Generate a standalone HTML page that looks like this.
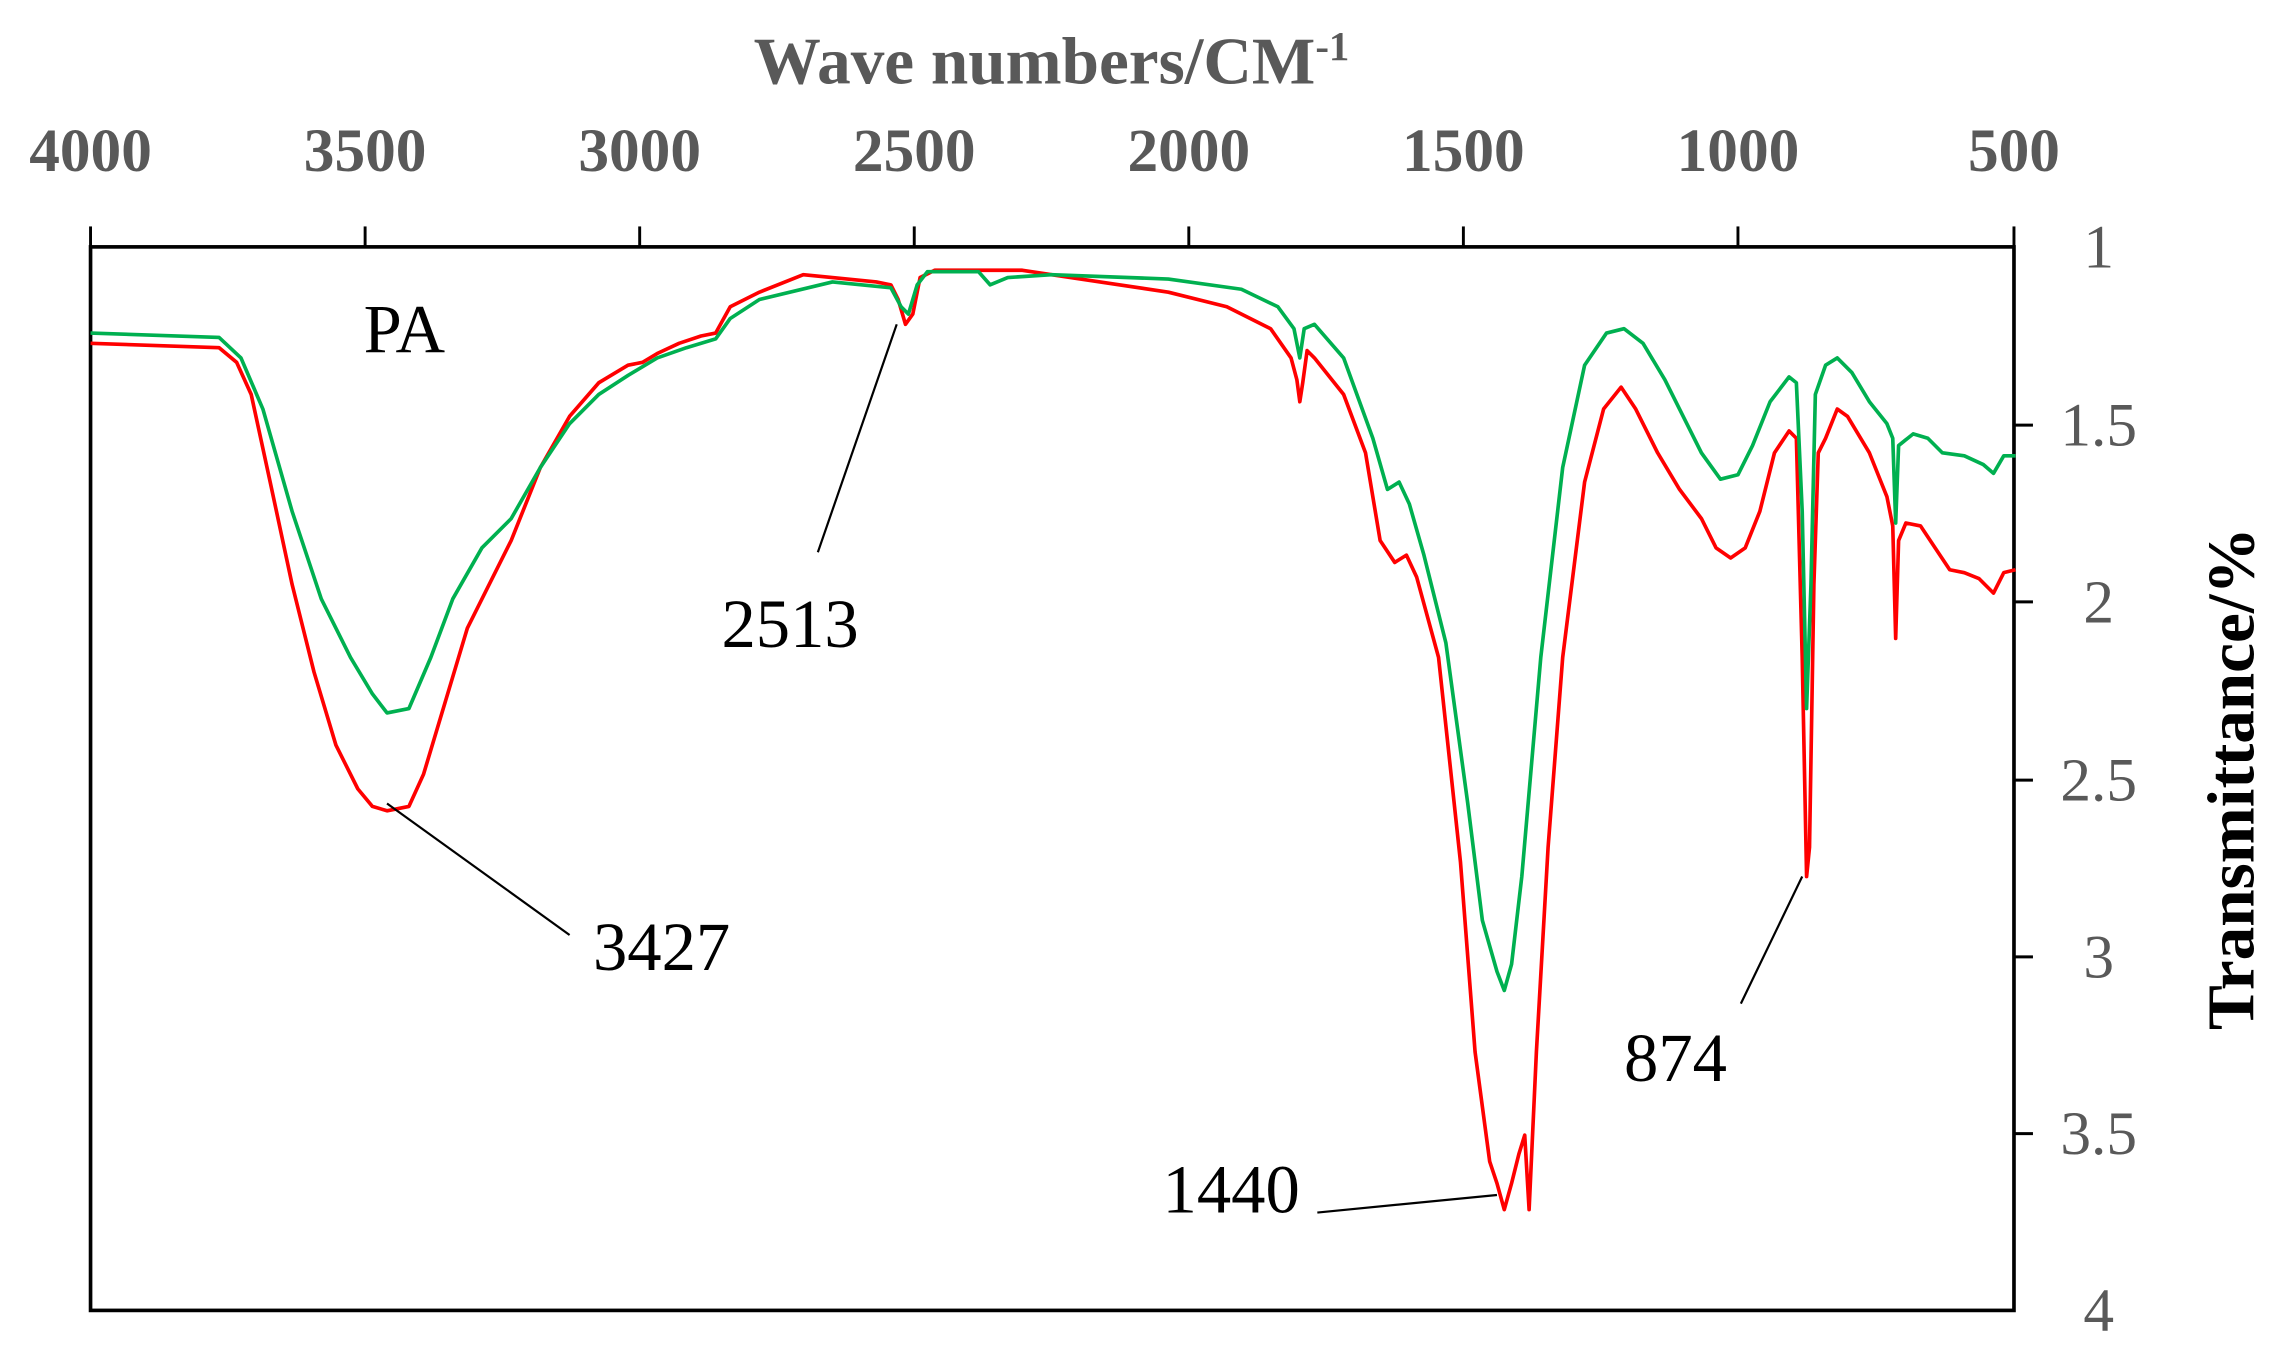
<!DOCTYPE html>
<html><head><meta charset="utf-8"><style>html,body{margin:0;padding:0;background:#fff}svg{display:block}</style></head><body>
<svg width="2290" height="1363" viewBox="0 0 1568 933" preserveAspectRatio="none" xmlns="http://www.w3.org/2000/svg" font-family="Liberation Serif, serif">
<text x="720" y="57" text-anchor="middle" font-size="46" font-weight="bold" fill="#595959">Wave numbers/CM<tspan font-size="28" dy="-16">-1</tspan></text>
<g font-size="42" font-weight="bold" fill="#595959" text-anchor="middle">
<text x="62" y="117">4000</text><text x="250" y="117">3500</text><text x="438" y="117">3000</text><text x="626" y="117">2500</text><text x="814" y="117">2000</text><text x="1002" y="117">1500</text><text x="1190" y="117">1000</text><text x="1379" y="117">500</text>
</g>
<g font-size="42" fill="#595959" text-anchor="middle">
<text x="1437" y="183">1</text><text x="1437" y="305">1.5</text><text x="1437" y="426">2</text><text x="1437" y="548">2.5</text><text x="1437" y="669">3</text><text x="1437" y="790">3.5</text><text x="1437" y="911">4</text>
</g>
<text transform="translate(1543,533) rotate(-90)" text-anchor="middle" font-size="46" font-weight="bold" fill="#000">Transmittance/%</text>
<rect x="62" y="169" width="1317" height="728" fill="none" stroke="#000" stroke-width="2.5"/>
<g stroke="#000" stroke-width="2">
<line x1="62" y1="155" x2="62" y2="169"/><line x1="250" y1="155" x2="250" y2="169"/><line x1="438" y1="155" x2="438" y2="169"/><line x1="626" y1="155" x2="626" y2="169"/><line x1="814" y1="155" x2="814" y2="169"/><line x1="1002" y1="155" x2="1002" y2="169"/><line x1="1190" y1="155" x2="1190" y2="169"/><line x1="1379" y1="155" x2="1379" y2="169"/>
<line x1="1379" y1="291" x2="1392" y2="291"/><line x1="1379" y1="412" x2="1392" y2="412"/><line x1="1379" y1="534" x2="1392" y2="534"/><line x1="1379" y1="655" x2="1392" y2="655"/><line x1="1379" y1="776" x2="1392" y2="776"/>
</g>
<polyline fill="none" stroke="#ff0000" stroke-width="2.5" stroke-linejoin="round" points="62,235 150,238 162,248 172,270 185,330 200,400 215,460 230,510 245,540 255,552 265,555 280,552 290,530 305,480 320,430 335,400 350,370 370,320 390,285 410,262 430,250 440,248 450,242 465,235 480,230 490,228 500,210 520,200 550,188 570,190 600,193 610,195 615,205 620,222 625,215 630,190 640,185 700,185 760,194 800,200 840,210 870,225 884,245 888,260 890,275 892,262 895,240 900,245 920,270 935,310 945,370 955,385 963,380 970,395 985,450 1000,590 1010,720 1020,795 1025,810 1030,828 1035,810 1040,790 1044,777 1047,828 1052,720 1060,580 1070,450 1085,330 1098,280 1110,265 1120,280 1135,310 1150,335 1165,355 1175,375 1185,382 1195,375 1205,350 1215,310 1225,295 1230,300 1234,450 1237,600 1239,580 1242,400 1245,310 1250,300 1258,280 1265,285 1280,310 1292,340 1296,360 1298,437 1300,370 1305,358 1315,360 1325,375 1335,390 1345,392 1355,396 1365,406 1372,392 1380,390"/>
<polyline fill="none" stroke="#00b050" stroke-width="2.5" stroke-linejoin="round" points="62,228 150,231 165,245 180,280 200,350 220,410 240,450 255,475 265,488 280,485 295,450 310,410 330,375 350,355 370,320 390,290 410,270 430,257 450,245 470,238 490,232 500,218 520,205 570,193 610,197 617,210 622,215 628,195 635,186 670,186 678,195 690,190 720,188 800,191 850,198 875,210 886,225 890,245 893,225 900,222 920,245 940,300 950,335 958,330 965,345 975,380 990,440 1005,550 1015,630 1025,665 1030,678 1035,660 1042,600 1055,450 1070,320 1085,250 1100,228 1112,225 1125,235 1140,260 1155,290 1165,310 1178,328 1190,325 1200,305 1212,275 1225,258 1230,262 1234,350 1237,485 1240,400 1243,270 1250,250 1258,245 1268,255 1280,275 1292,290 1296,300 1298,358 1300,305 1310,297 1320,300 1330,310 1345,312 1358,318 1365,324 1372,312 1380,312"/>
<g stroke="#000" stroke-width="1.5">
<line x1="560" y1="378" x2="614" y2="222"/><line x1="390" y1="640" x2="265" y2="550"/><line x1="902" y1="830" x2="1025" y2="818"/><line x1="1192" y1="687" x2="1234" y2="600"/>
</g>
<g font-size="47" fill="#000">
<text x="249" y="241">PA</text><text x="494" y="443">2513</text><text x="406" y="664">3427</text><text x="796" y="830">1440</text><text x="1112" y="740">874</text>
</g>
</svg>
</body></html>
